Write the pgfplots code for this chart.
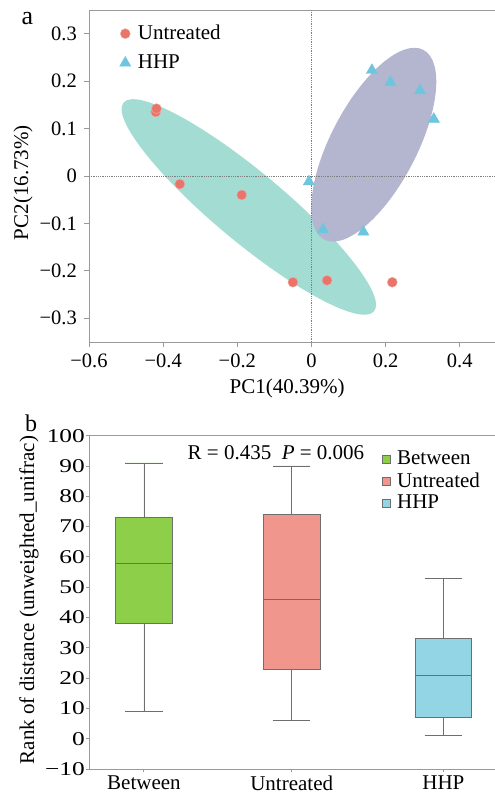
\documentclass[border=0pt]{standalone}
\usepackage{graphicx}
\usepackage{pgfplots}
\pgfplotsset{compat=1.18}
\usepgfplotslibrary{statistics}
\usepackage{fontspec}
\setmainfont{Liberation Serif}

\definecolor{ptred}{HTML}{E8746A}
\definecolor{ptblue}{HTML}{6EC6DE}
\definecolor{ellgreen}{HTML}{A2DCD2}
\definecolor{ellblue}{HTML}{B3B6CE}
\definecolor{boxgreen}{HTML}{8DCF49}
\definecolor{boxred}{HTML}{F0968C}
\definecolor{boxblue}{HTML}{93D5E5}
\definecolor{axgray}{HTML}{9A9A9A}
\definecolor{boxline}{HTML}{6E6E6E}

\newcommand{\sx}[1]{\scalebox{1.3}[1]{#1}}
\newcommand{\fs}[1]{\fontsize{#1}{#1}\selectfont}

\pgfplotsset{
  panel/.style={
    scale only axis, width=406pt,
    axis x line*=box, axis y line*=left,
    axis line style={-, axgray, line width=0.9pt},
    tick style={axgray, line width=0.9pt},
    tick align=outside,
    xtick pos=bottom, ytick pos=left,
  }
}

\begin{document}
\fs{21}%
\begin{tikzpicture}
\useasboundingbox (0,0) rectangle (495pt,795pt);

% ---- a: PCoA ----
\begin{axis}[panel,
  at={(89pt,453pt)}, anchor=south west, height=332pt,
  xmin=-0.6, xmax=0.495, ymin=-0.35, ymax=0.35,
  major tick length=5pt,
  tick label style={font=\fs{20.5}},
  xtick={-0.6,-0.4,-0.2,0,0.2,0.4},
  xticklabels={−0.6,−0.4,−0.2,0,0.2,0.4},
  ytick={-0.3,-0.2,-0.1,0,0.1,0.2,0.3},
  yticklabels={−0.3,−0.2,−0.1,0,0.1,0.2,0.3},
  xlabel={PC1(40.39\%)}, ylabel={PC2(16.73\%)},
  xlabel style={at={(axis description cs:0.488,-0.1386)}, anchor=center},
  ylabel style={at={(axis description cs:-0.1626,0.48)}, anchor=center},
  legend style={draw=none, fill=none, at={(axis description cs:0.075,0.962)},
    anchor=north west, row sep=8pt, column sep=5pt, inner sep=0pt},
  legend cell align=left,
  legend image code/.code={\draw[#1] plot coordinates {(0pt,0pt)};},
]
\fill[ellgreen, rotate around={-39.8:(axis cs:-0.169,-0.0653)}]
  (axis cs:-0.169,-0.0653) ellipse [x radius=163pt, y radius=35pt];
\fill[ellblue, rotate around={62.4:(axis cs:0.168,0.066)}]
  (axis cs:0.168,0.066) ellipse [x radius=107pt, y radius=43pt];
\addplot[densely dotted, gray, line width=0.8pt, forget plot] coordinates {(0,-0.35) (0,0.35)};
\addplot[densely dotted, gray, line width=0.8pt, forget plot] coordinates {(-0.6,0) (0.495,0)};

\addplot[only marks, mark=*, mark size=5pt, ptred, mark options={draw=ptred!60!white, line width=0.4pt}] coordinates {
  (-0.420,0.135) (-0.418,0.142) (-0.355,-0.017) (-0.188,-0.040)
  (-0.050,-0.224) (0.042,-0.220) (0.218,-0.224)
};
\addlegendentry{Untreated}
\addplot[only marks, mark=triangle*, mark size=6.5pt, ptblue, mark options={draw=ptblue}] coordinates {
  (0.163,0.223) (0.213,0.198) (0.293,0.180) (0.330,0.120)
  (-0.007,-0.012) (0.031,-0.113) (0.140,-0.118)
};
\addlegendentry{HHP}
\end{axis}
\node[anchor=base, font=\fs{26}] at (27.5pt,770pt) {a};

% ---- b: ANOSIM boxplot ----
\begin{axis}[panel,
  at={(89pt,26pt)}, anchor=south west, height=333.3pt,
  boxplot/draw direction=y,
  xmin=-0.367, xmax=2.345, ymin=-10, ymax=100,
  major tick length=3pt,
  xtick={0,0.987,2}, xticklabels={Between,Untreated,HHP},
  xticklabel style={font=\fs{21}, yshift=3pt},
  ytick={-10,0,10,20,30,40,50,60,70,80,90,100},
  yticklabels={\sx{−10},\sx{0},\sx{10},\sx{20},\sx{30},\sx{40},\sx{50},\sx{60},\sx{70},\sx{80},\sx{90},\sx{100}},
  yticklabel style={inner xsep=1pt, font=\fs{19.5}},
  ylabel={Rank of distance (unweighted\_unifrac)},
  ylabel style={at={(axis description cs:-0.148,0.507)}, anchor=center},
  legend style={draw=none, fill=none, at={(axis description cs:0.72,0.962)},
    anchor=north west, row sep=1pt, column sep=5pt, inner sep=0pt,
    font=\fs{21}},
  legend cell align=left,
  legend image code/.code={\draw[#1] (0pt,-4pt) rectangle (8pt,4pt);},
]
\addplot[boxplot prepared={draw position=0, median=58, upper quartile=73,
  lower quartile=38, upper whisker=91, lower whisker=9,
  box extend=0.38, whisker extend=0.25},
  fill=boxgreen, draw=boxline, line width=0.8pt, forget plot] coordinates {};
\addplot[boxplot prepared={draw position=0.987, median=46, upper quartile=74,
  lower quartile=23, upper whisker=90, lower whisker=6,
  box extend=0.38, whisker extend=0.25},
  fill=boxred, draw=boxline, line width=0.8pt, forget plot] coordinates {};
\addplot[boxplot prepared={draw position=2, median=21, upper quartile=33,
  lower quartile=7, upper whisker=53, lower whisker=1.2,
  box extend=0.37, whisker extend=0.25},
  fill=boxblue, draw=boxline, line width=0.8pt, forget plot] coordinates {};
\addlegendimage{fill=boxgreen, draw=boxline, line width=0.6pt}
\addlegendentry{Between}
\addlegendimage{fill=boxred, draw=boxline, line width=0.6pt}
\addlegendentry{Untreated}
\addlegendimage{fill=boxblue, draw=boxline, line width=0.6pt}
\addlegendentry{HHP}
\node[font=\fs{21}] at (axis cs:0.882,94.4) {R = 0.435\ \ \textit{P} = 0.006};
\end{axis}
\node[anchor=base, font=\fs{24}] at (31pt,363pt) {b};
\end{tikzpicture}
\end{document}
